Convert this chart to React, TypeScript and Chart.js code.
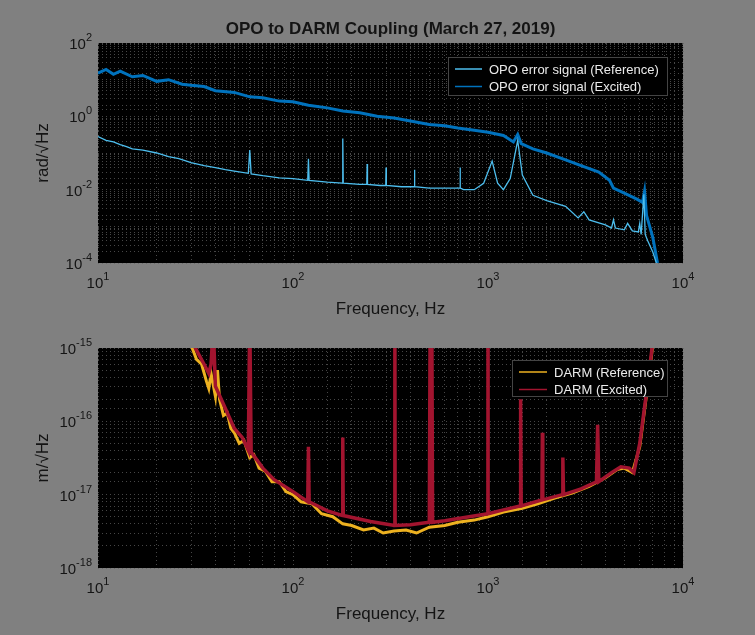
import React, { useEffect, useRef } from "react";
import { Chart, registerables } from "chart.js";
Chart.register(...registerables);

const opoExcFreq = [10,11,12,13,15,17,20,23,27,30,35,40,50,60,70,85,100,120,150,180,220,270,330,400,500,600,700,850,1000,1200,1350,1420,1480,1700,2000,2500,3000,3700,4200,4400,5000,5800,6200,6350,6500,7000,7400];
const opoExcVal = [15,19,14,17,12,13,9,10,7.5,7,6.5,5,4.5,3.4,3.2,2.6,2.5,2.0,1.7,1.4,1.25,1.0,0.9,0.75,0.6,0.55,0.48,0.42,0.37,0.3,0.2,0.32,0.18,0.13,0.1,0.065,0.045,0.03,0.018,0.011,0.008,0.0055,0.0045,0.009,0.002,0.0005,0.0001];
const opoRefFreq = [10,11,12,13,14,15,17,20,23,26,30,35,40,45,50,59,60,61,70,85,100,119,120,121,150,179,180,181,220,239,240,241,280,299,300,301,360,400,419,420,421,500,600,700,719,720,721,750,850,950,1050,1120,1200,1300,1420,1500,1700,2000,2500,2900,3100,3300,4000,4300,4400,4500,5000,5200,5500,5900,6000,6100,6300,6400,6600,7000,7300];
const opoRefVal = [0.28,0.22,0.2,0.17,0.15,0.13,0.12,0.1,0.08,0.07,0.055,0.045,0.04,0.035,0.032,0.028,0.12,0.027,0.024,0.021,0.02,0.018,0.07,0.018,0.016,0.015,0.25,0.015,0.014,0.014,0.05,0.014,0.013,0.013,0.04,0.013,0.012,0.012,0.012,0.035,0.012,0.011,0.011,0.011,0.011,0.04,0.011,0.01,0.01,0.015,0.06,0.015,0.01,0.02,0.22,0.025,0.007,0.005,0.0035,0.0017,0.0025,0.0015,0.0011,0.0009,0.0015,0.0009,0.0008,0.0012,0.00075,0.0007,0.0012,0.0006,0.0075,0.0006,0.0004,0.0002,0.0001];

const darmExcFreq = [28,30,33,35,37,38,39,40,45,50,55,59,60,61,70,80,100,119,120,121,150,179,180,181,250,332,333,334,400,500,505,515,520,600,800,999,1000,1001,1200,1460,1470,1480,1890,1900,1910,2400,2420,2440,3000,3600,3650,3700,4300,4800,5300,5600,6000,6500,7000,7500];
const darmExcVal = [3e-15,1.3e-15,8e-16,6e-16,4.5e-16,6e-16,2e-15,3e-16,1.5e-16,8e-17,6e-17,4e-17,3e-15,3.8e-17,2.3e-17,1.6e-17,1.1e-17,8e-18,4.5e-17,8e-18,6e-18,5.2e-18,6e-17,5.2e-18,4.3e-18,3.8e-18,3e-15,3.8e-18,3.9e-18,4.2e-18,3e-15,3e-15,4.2e-18,4.4e-18,5e-18,5.5e-18,3e-15,5.5e-18,6.2e-18,7e-18,2e-16,7e-18,8.5e-18,7e-17,8.5e-18,1e-17,3.2e-17,1e-17,1.2e-17,1.5e-17,9e-17,1.5e-17,2e-17,2.4e-17,2.3e-17,2e-17,5e-17,2.5e-16,1.2e-15,5e-15];
const darmRefFreq = [28,30,32,34,36,37,38,40,41,42,44,46,48,50,53,56,60,63,67,72,78,85,92,100,110,125,140,160,180,200,230,260,290,330,380,430,500,600,700,850,1000,1200,1500,1800,2200,2700,3300,4000,4600,5000,5500,6000,6500,7000,7500];
const darmRefVal = [3e-15,1.1e-15,7e-16,6e-16,3.5e-16,2.8e-16,4.5e-16,2.2e-16,5e-16,2e-16,1.2e-16,1.3e-16,8e-17,7e-17,5e-17,5.5e-17,3.2e-17,3.5e-17,2.3e-17,2.1e-17,1.5e-17,1.5e-17,1.1e-17,1e-17,8e-18,7.5e-18,5.5e-18,5e-18,4e-18,3.8e-18,3.3e-18,3.5e-18,3e-18,3.2e-18,3.3e-18,3e-18,3.6e-18,3.8e-18,4.2e-18,4.5e-18,5e-18,5.8e-18,6.5e-18,7.5e-18,9e-18,1.05e-17,1.3e-17,1.7e-17,2.2e-17,2.3e-17,2e-17,4.5e-17,2.3e-16,1.1e-15,5e-15];

const xDecades = [1, 2, 3, 4];
const topYDecades = [-4, -2, 0, 2];
const botYDecades = [-18, -17, -16, -15];

const FONT = "'Liberation Sans', Arial, sans-serif";

function drawPow(ctx: CanvasRenderingContext2D, x: number, y: number, exp: number, align: string) {
  ctx.fillStyle = "#141414";
  ctx.font = `15px ${FONT}`;
  const w10 = ctx.measureText("10").width;
  ctx.font = `11px ${FONT}`;
  const e = String(exp);
  const we = ctx.measureText(e).width;
  const sx = align === "center" ? x - (w10 + we) / 2 : x - w10 - we;
  ctx.textAlign = "left";
  ctx.textBaseline = "alphabetic";
  ctx.font = `15px ${FONT}`;
  ctx.fillText("10", sx, y);
  ctx.font = `11px ${FONT}`;
  ctx.fillText(e, sx + w10, y - 8);
}

function makeChart(canvas: HTMLCanvasElement, cfg: any) {
  const pts = (f: number[], v: number[]) => f.map((x, i) => ({ x, y: v[i] }));
  const plugin = {
    id: "deco",
    beforeDraw(chart: any) {
      const { ctx, chartArea: a } = chart;
      ctx.save();
      ctx.fillStyle = "#000";
      ctx.fillRect(a.left, a.top, a.right - a.left, a.bottom - a.top);
      ctx.restore();
    },
    afterDraw(chart: any) {
      const { ctx, chartArea: a, scales } = chart;
      ctx.save();
      for (const d of xDecades) drawPow(ctx, scales.x.getPixelForValue(10 ** d), a.bottom + 25, d, "center");
      for (const d of cfg.yDec) drawPow(ctx, a.left - 6, scales.y.getPixelForValue(10 ** d) + 6, d, "right");
      ctx.fillStyle = "#141414";
      ctx.font = `17px ${FONT}`;
      ctx.textAlign = "center";
      ctx.fillText("Frequency, Hz", (a.left + a.right) / 2, a.bottom + 51);
      ctx.save();
      ctx.translate(a.left - 50, (a.top + a.bottom) / 2);
      ctx.rotate(-Math.PI / 2);
      ctx.fillText(cfg.yTitle, 0, 0);
      ctx.restore();
      if (cfg.title) {
        ctx.font = `bold 17px ${FONT}`;
        ctx.fillText(cfg.title, (a.left + a.right) / 2, a.top - 9);
      }
      const L = cfg.legend;
      ctx.fillStyle = "#000";
      ctx.fillRect(L.x, L.y, L.w, L.h);
      ctx.strokeStyle = "#444";
      ctx.lineWidth = 1;
      ctx.strokeRect(L.x + 0.5, L.y + 0.5, L.w, L.h);
      ctx.font = `13px ${FONT}`;
      ctx.textAlign = "left";
      ctx.textBaseline = "middle";
      L.items.forEach((it: any, i: number) => {
        const yy = L.y + 12 + i * 17.5;
        ctx.strokeStyle = it.c;
        ctx.lineWidth = 1.5;
        ctx.beginPath();
        ctx.moveTo(L.x + 7, yy);
        ctx.lineTo(L.x + L.lw, yy);
        ctx.stroke();
        ctx.fillStyle = "#eaeaea";
        ctx.fillText(it.t, L.x + L.lw + 7, yy + 1);
      });
      ctx.restore();
    },
  };
  const grid = { color: "rgba(100,100,100,0.7)", drawTicks: false, lineWidth: 1 };
  const border = { display: false, dash: [1, 3] };
  return new Chart(canvas, {
    type: "line",
    data: {
      datasets: cfg.series.map((s: any) => ({
        data: pts(s.f, s.v),
        borderColor: s.c,
        borderWidth: s.w,
        pointRadius: 0,
        tension: 0,
      })),
    },
    options: {
      animation: false,
      responsive: false,
      events: [],
      layout: { padding: { left: 0, right: 72, top: cfg.top, bottom: 0 } },
      plugins: { legend: { display: false }, tooltip: { enabled: false } },
      scales: {
        x: {
          type: "logarithmic", min: 10, max: 10000,
          grid, border,
          ticks: { callback: () => "", autoSkip: false, padding: 0 },
          afterFit: (s: any) => { s.height = cfg.bottom; },
        },
        y: {
          type: "logarithmic", min: cfg.ymin, max: cfg.ymax,
          grid, border,
          ticks: { callback: () => "", autoSkip: false, padding: 0 },
          afterFit: (s: any) => { s.width = 98; },
        },
      },
    },
    plugins: [plugin],
  });
}

export default function App() {
  const c1 = useRef<HTMLCanvasElement>(null);
  const c2 = useRef<HTMLCanvasElement>(null);
  useEffect(() => {
    const a = makeChart(c1.current!, {
      top: 43, bottom: 57, ymin: 1e-4, ymax: 1e2, yDec: topYDecades,
      yTitle: "rad/\u221AHz", title: "OPO to DARM Coupling (March 27, 2019)",
      series: [
        { f: opoRefFreq, v: opoRefVal, c: "#4DBEEE", w: 1.3 },
        { f: opoExcFreq, v: opoExcVal, c: "#0072BD", w: 3 },
      ],
      legend: { x: 448, y: 57, w: 219, h: 38, lw: 34, items: [
        { t: "OPO error signal (Reference)", c: "#4DBEEE" },
        { t: "OPO error signal (Excited)", c: "#0072BD" },
      ] },
    });
    const b = makeChart(c2.current!, {
      top: 28, bottom: 67, ymin: 1e-18, ymax: 1e-15, yDec: botYDecades,
      yTitle: "m/\u221AHz", title: "",
      series: [
        { f: darmExcFreq, v: darmExcVal, c: "#A2142F", w: 3.5 },
        { f: darmRefFreq, v: darmRefVal, c: "#EDB120", w: 3 },
      ],
      legend: { x: 512, y: 40, w: 155, h: 36, lw: 35, items: [
        { t: "DARM (Reference)", c: "#EDB120" },
        { t: "DARM (Excited)", c: "#A2142F" },
      ] },
    });
    return () => { a.destroy(); b.destroy(); };
  }, []);
  return (
    <div style={{ position: "fixed", left: 0, top: 0, width: 755, height: 635, background: "#808080" }}>
      <canvas ref={c1} width={755} height={320} style={{ position: "absolute", left: 0, top: 0, width: 755, height: 320 }} />
      <canvas ref={c2} width={755} height={315} style={{ position: "absolute", left: 0, top: 320, width: 755, height: 315 }} />
    </div>
  );
}
